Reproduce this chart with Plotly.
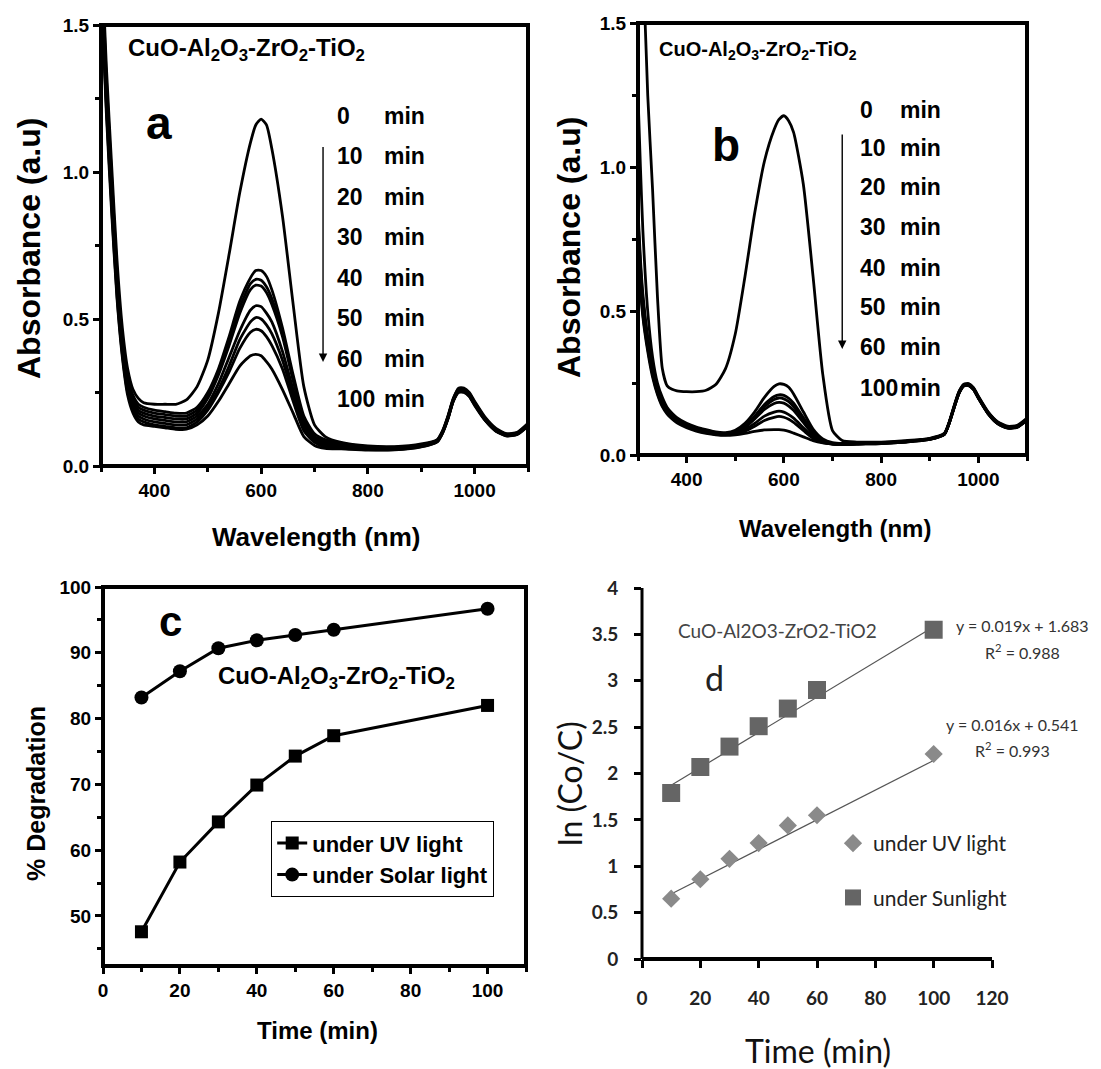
import plotly.graph_objects as go

W_PX, H_PX = 1101, 1069

# ---------------- data ----------------
wavelength = [300, 305, 310, 320, 330, 340, 350, 360, 370, 380, 400, 420, 440, 460, 480,
              500, 520, 540, 560, 580, 590, 600, 610, 620, 640, 660, 680, 700, 720, 750,
              800, 850, 900, 930, 940, 950, 960, 970, 980, 990, 1000, 1020, 1040, 1060, 1080, 1100]

# (a) spectra under UV light
a_0min = [1.80, 1.58, 1.36, 1.02, 0.70, 0.47, 0.33, 0.26, 0.23, 0.215, 0.21, 0.21, 0.21, 0.225, 0.27,
          0.36, 0.52, 0.72, 0.93, 1.10, 1.16, 1.18, 1.16, 1.08, 0.85, 0.55, 0.27, 0.14, 0.10, 0.08,
          0.068, 0.066, 0.075, 0.09, 0.12, 0.17, 0.23, 0.265, 0.265, 0.25, 0.22, 0.165, 0.128, 0.11, 0.115, 0.145]
a_10min = [1.76, 1.54, 1.32, 0.98, 0.66, 0.43, 0.30, 0.24, 0.21, 0.20, 0.19, 0.185, 0.18, 0.18, 0.20,
           0.25, 0.33, 0.44, 0.56, 0.64, 0.665, 0.665, 0.645, 0.60, 0.47, 0.31, 0.17, 0.11, 0.09, 0.078,
           0.066, 0.064, 0.072, 0.088, 0.118, 0.168, 0.228, 0.262, 0.262, 0.247, 0.217, 0.162, 0.125, 0.108, 0.113, 0.142]
a_20min = [1.74, 1.52, 1.30, 0.96, 0.64, 0.42, 0.29, 0.23, 0.20, 0.19, 0.18, 0.175, 0.17, 0.17, 0.19,
           0.24, 0.32, 0.42, 0.54, 0.62, 0.635, 0.632, 0.61, 0.57, 0.45, 0.30, 0.16, 0.10, 0.085, 0.075,
           0.064, 0.063, 0.071, 0.087, 0.117, 0.166, 0.226, 0.26, 0.26, 0.245, 0.215, 0.16, 0.124, 0.107, 0.112, 0.141]
a_30min = [1.72, 1.50, 1.28, 0.94, 0.63, 0.41, 0.28, 0.22, 0.19, 0.18, 0.17, 0.165, 0.16, 0.16, 0.18,
           0.23, 0.31, 0.41, 0.52, 0.60, 0.615, 0.612, 0.59, 0.55, 0.44, 0.29, 0.155, 0.095, 0.08, 0.072,
           0.062, 0.061, 0.07, 0.086, 0.116, 0.165, 0.225, 0.258, 0.258, 0.243, 0.213, 0.158, 0.122, 0.106, 0.111, 0.14]
a_40min = [1.70, 1.48, 1.26, 0.92, 0.61, 0.40, 0.27, 0.21, 0.18, 0.17, 0.16, 0.155, 0.15, 0.15, 0.17,
           0.21, 0.28, 0.37, 0.46, 0.53, 0.545, 0.542, 0.52, 0.49, 0.39, 0.26, 0.14, 0.09, 0.075, 0.07,
           0.06, 0.06, 0.069, 0.085, 0.115, 0.163, 0.223, 0.256, 0.256, 0.241, 0.211, 0.157, 0.121, 0.105, 0.11, 0.139]
a_50min = [1.68, 1.46, 1.24, 0.90, 0.60, 0.39, 0.26, 0.20, 0.17, 0.16, 0.15, 0.145, 0.14, 0.14, 0.16,
           0.20, 0.26, 0.34, 0.43, 0.49, 0.505, 0.50, 0.48, 0.45, 0.36, 0.24, 0.13, 0.085, 0.07, 0.066,
           0.058, 0.058, 0.068, 0.084, 0.114, 0.162, 0.222, 0.254, 0.254, 0.24, 0.21, 0.156, 0.12, 0.104, 0.109, 0.138]
a_60min = [1.66, 1.44, 1.22, 0.88, 0.58, 0.38, 0.25, 0.19, 0.16, 0.15, 0.14, 0.135, 0.13, 0.13, 0.15,
           0.19, 0.25, 0.32, 0.40, 0.455, 0.465, 0.46, 0.44, 0.41, 0.33, 0.22, 0.12, 0.08, 0.065, 0.062,
           0.056, 0.056, 0.066, 0.083, 0.113, 0.161, 0.221, 0.252, 0.252, 0.238, 0.208, 0.155, 0.119, 0.103, 0.108, 0.137]
a_100min = [1.64, 1.42, 1.20, 0.86, 0.57, 0.37, 0.24, 0.18, 0.15, 0.14, 0.135, 0.13, 0.125, 0.125, 0.14,
            0.17, 0.22, 0.28, 0.34, 0.375, 0.38, 0.375, 0.355, 0.33, 0.26, 0.18, 0.10, 0.07, 0.06, 0.058,
            0.054, 0.055, 0.065, 0.082, 0.112, 0.16, 0.22, 0.25, 0.25, 0.236, 0.206, 0.154, 0.118, 0.102, 0.107, 0.136]

# (b) spectra under solar light
b_0min = [1.95, 1.85, 1.72, 1.25, 0.92, 0.55, 0.30, 0.24, 0.228, 0.223, 0.22, 0.22, 0.225, 0.245, 0.30,
          0.42, 0.62, 0.84, 1.02, 1.13, 1.165, 1.178, 1.16, 1.12, 0.94, 0.62, 0.28, 0.085, 0.05, 0.045,
          0.045, 0.05, 0.058, 0.075, 0.115, 0.17, 0.22, 0.246, 0.248, 0.234, 0.204, 0.15, 0.115, 0.10, 0.103, 0.128]
b_10min = [1.25, 1.00, 0.78, 0.50, 0.34, 0.25, 0.20, 0.165, 0.145, 0.13, 0.11, 0.097, 0.088, 0.08, 0.078,
           0.086, 0.11, 0.15, 0.20, 0.238, 0.247, 0.245, 0.235, 0.212, 0.15, 0.09, 0.056, 0.043, 0.04, 0.042,
           0.043, 0.048, 0.057, 0.074, 0.113, 0.168, 0.218, 0.244, 0.246, 0.232, 0.202, 0.148, 0.113, 0.098, 0.101, 0.126]
b_20min = [0.85, 0.68, 0.56, 0.41, 0.31, 0.235, 0.19, 0.16, 0.14, 0.125, 0.106, 0.094, 0.085, 0.078, 0.075,
           0.082, 0.10, 0.135, 0.175, 0.203, 0.209, 0.207, 0.197, 0.18, 0.13, 0.08, 0.05, 0.04, 0.038, 0.04,
           0.042, 0.047, 0.056, 0.073, 0.112, 0.167, 0.217, 0.243, 0.245, 0.231, 0.201, 0.147, 0.112, 0.097, 0.10, 0.125]
b_30min = [0.82, 0.66, 0.54, 0.40, 0.30, 0.23, 0.185, 0.156, 0.137, 0.122, 0.104, 0.092, 0.083, 0.076, 0.074,
           0.08, 0.098, 0.13, 0.168, 0.193, 0.198, 0.195, 0.185, 0.168, 0.122, 0.077, 0.049, 0.04, 0.038, 0.04,
           0.042, 0.047, 0.056, 0.073, 0.112, 0.166, 0.216, 0.242, 0.244, 0.23, 0.20, 0.146, 0.111, 0.096, 0.099, 0.124]
b_40min = [0.80, 0.64, 0.52, 0.39, 0.29, 0.225, 0.18, 0.152, 0.134, 0.12, 0.102, 0.09, 0.081, 0.075, 0.073,
           0.078, 0.095, 0.125, 0.158, 0.179, 0.183, 0.18, 0.17, 0.155, 0.113, 0.072, 0.047, 0.039, 0.037, 0.039,
           0.041, 0.046, 0.055, 0.072, 0.111, 0.165, 0.215, 0.241, 0.243, 0.229, 0.199, 0.145, 0.11, 0.095, 0.098, 0.123]
b_50min = [0.78, 0.62, 0.50, 0.38, 0.285, 0.22, 0.176, 0.148, 0.13, 0.117, 0.10, 0.088, 0.08, 0.074, 0.072,
           0.075, 0.088, 0.11, 0.135, 0.149, 0.152, 0.149, 0.14, 0.128, 0.095, 0.063, 0.045, 0.039, 0.037, 0.039,
           0.041, 0.046, 0.055, 0.072, 0.11, 0.164, 0.214, 0.24, 0.242, 0.228, 0.198, 0.144, 0.109, 0.094, 0.097, 0.122]
b_60min = [0.76, 0.60, 0.49, 0.37, 0.28, 0.215, 0.172, 0.145, 0.128, 0.115, 0.098, 0.086, 0.078, 0.072, 0.07,
           0.073, 0.083, 0.10, 0.12, 0.131, 0.134, 0.131, 0.124, 0.113, 0.085, 0.058, 0.043, 0.038, 0.036, 0.038,
           0.04, 0.045, 0.054, 0.071, 0.11, 0.164, 0.214, 0.24, 0.242, 0.228, 0.198, 0.144, 0.109, 0.094, 0.097, 0.122]
b_100min = [0.74, 0.58, 0.48, 0.36, 0.27, 0.21, 0.168, 0.142, 0.125, 0.112, 0.095, 0.083, 0.075, 0.07, 0.068,
            0.07, 0.075, 0.082, 0.087, 0.088, 0.088, 0.086, 0.082, 0.076, 0.063, 0.05, 0.042, 0.038, 0.036, 0.038,
            0.04, 0.045, 0.054, 0.071, 0.11, 0.163, 0.213, 0.239, 0.241, 0.227, 0.197, 0.143, 0.108, 0.093, 0.096, 0.121]

time_labels = ["0", "10", "20", "30", "40", "50", "60", "100"]

# (c) percentage degradation
time_min = [10, 20, 30, 40, 50, 60, 100]
deg_uv = [47.6, 58.2, 64.3, 69.9, 74.3, 77.4, 82.0]
deg_solar = [83.2, 87.2, 90.7, 91.9, 92.7, 93.5, 96.7]

# (d) first-order kinetics, ln(Co/C)
lnc_uv = [0.65, 0.86, 1.08, 1.25, 1.44, 1.55, 2.21]
lnc_sun = [1.79, 2.07, 2.29, 2.51, 2.70, 2.90, 3.55]
fit_uv = (0.016, 0.541, 0.993)
fit_sun = (0.019, 1.683, 0.988)
fit_range = [10, 100]

# tick values and labels
wl_ticks = [400, 600, 800, 1000]
wl_labels = ["400", "600", "800", "1000"]
abs_ticks = [0, 0.5, 1.0, 1.5]
abs_labels = ["0.0", "0.5", "1.0", "1.5"]
c_x_ticks = [0, 20, 40, 60, 80, 100]
c_x_labels = ["0", "20", "40", "60", "80", "100"]
c_y_ticks = [50, 60, 70, 80, 90, 100]
c_y_labels = ["50", "60", "70", "80", "90", "100"]
d_x_ticks = [0, 20, 40, 60, 80, 100, 120]
d_x_labels = ["0", "20", "40", "60", "80", "100", "120"]
d_y_ticks = [0, 0.5, 1, 1.5, 2, 2.5, 3, 3.5, 4]
d_y_labels = ["0", "0.5", "1", "1.5", "2", "2.5", "3", "3.5", "4"]

# ---------------- styling helpers ----------------
ARIAL = "Liberation Sans, Arial, sans-serif"
CAL = "Lato, Carlito, Calibri, sans-serif"
COMPOUND = "CuO-Al<sub>2</sub>O<sub>3</sub>-ZrO<sub>2</sub>-TiO<sub>2</sub>"


def bold(s):
    return "<b>" + s + "</b>"


def px_x(px):
    return px / W_PX


def px_y(py):
    return 1 - py / H_PX


def dom(x0, x1, y0, y1):
    return [px_x(x0), px_x(x1)], [px_y(y1), px_y(y0)]


fig = go.Figure()

# spectra panels
for curves, xa, ya in (
    ([a_0min, a_10min, a_20min, a_30min, a_40min, a_50min, a_60min, a_100min], "x", "y"),
    ([b_0min, b_10min, b_20min, b_30min, b_40min, b_50min, b_60min, b_100min], "x2", "y2"),
):
    for ys in curves:
        fig.add_trace(go.Scatter(
            x=wavelength, y=ys, mode="lines", xaxis=xa, yaxis=ya,
            line=dict(color="black", width=2.8, shape="spline", smoothing=0.6),
            showlegend=False, hoverinfo="skip"))

# degradation panel
fig.add_trace(go.Scatter(
    x=time_min, y=deg_uv, mode="lines+markers", name=bold("under UV light"),
    xaxis="x3", yaxis="y3", legend="legend",
    line=dict(color="black", width=3),
    marker=dict(symbol="square", size=13, color="black")))
fig.add_trace(go.Scatter(
    x=time_min, y=deg_solar, mode="lines+markers", name=bold("under Solar light"),
    xaxis="x3", yaxis="y3", legend="legend",
    line=dict(color="black", width=3),
    marker=dict(symbol="circle", size=14, color="black")))

# kinetics panel
for slope, icpt, _ in (fit_sun, fit_uv):
    fig.add_trace(go.Scatter(
        x=fit_range, y=[slope * t + icpt for t in fit_range], mode="lines",
        xaxis="x4", yaxis="y4", line=dict(color="#555555", width=1.2),
        showlegend=False, hoverinfo="skip"))
fig.add_trace(go.Scatter(
    x=time_min, y=lnc_uv, mode="markers", name="under UV light",
    xaxis="x4", yaxis="y4", legend="legend2", legendgroup="uv",
    marker=dict(symbol="diamond", size=14, color="#8a8a8a")))
fig.add_trace(go.Scatter(
    x=time_min, y=lnc_sun, mode="markers", name="under Sunlight",
    xaxis="x4", yaxis="y4", legend="legend2", legendgroup="sun",
    marker=dict(symbol="square", size=18, color="#656565")))


# ---------------- axes ----------------
def frame_axis(domain, anchor, rng, tickvals, ticklabels, font, minor=None,
               ticklen=7, tickwidth=2.5, standoff=None):
    d = dict(domain=domain, anchor=anchor, range=rng,
             tickmode="array", tickvals=tickvals, ticktext=[bold(t) for t in ticklabels],
             ticks="outside", ticklen=ticklen, tickwidth=tickwidth, tickcolor="black",
             showline=False, showgrid=False, zeroline=False, tickfont=font)
    if minor:
        tick0, dtick = minor
        d["minor"] = dict(tickmode="linear", tick0=tick0, dtick=dtick, ticks="outside",
                          ticklen=5, tickwidth=2.5, tickcolor="black", showgrid=False)
    if standoff is not None:
        d["ticklabelstandoff"] = standoff
    return d


spec_font = dict(family=ARIAL, size=19, color="black")
c_font = dict(family=ARIAL, size=19, color="black")
d_font = dict(family=CAL, size=19, color="#222222")

xd, yd = dom(101, 528, 25, 466)
xaxis1 = frame_axis(xd, "y", [300, 1100], wl_ticks, wl_labels, spec_font, (300, 100))
yaxis1 = frame_axis(yd, "x", [0, 1.5], abs_ticks, abs_labels, spec_font, (0, 0.25))
xd, yd = dom(638, 1027, 23, 455)
xaxis2 = frame_axis(xd, "y2", [300, 1100], wl_ticks, wl_labels, spec_font, (300, 100))
yaxis2 = frame_axis(yd, "x2", [0, 1.5], abs_ticks, abs_labels, spec_font, (0, 0.25))
xd, yd = dom(103, 526, 587, 966)
xaxis3 = frame_axis(xd, "y3", [0, 110], c_x_ticks, c_x_labels, c_font, (0, 10))
yaxis3 = frame_axis(yd, "x3", [42.4, 100], c_y_ticks, c_y_labels, c_font, (0, 5))
xd, yd = dom(642, 992, 588, 959)
xaxis4 = frame_axis(xd, "y4", [0, 120], d_x_ticks, d_x_labels, d_font,
                    ticklen=8, tickwidth=3, standoff=14)
yaxis4 = frame_axis(yd, "x4", [0, 4], d_y_ticks, d_y_labels, d_font, standoff=12)

# plot frames (boxes for a-c, left/bottom spines for d)
FRAME_W = 4
shapes = []
for sx, sy in (("x", "y"), ("x2", "y2"), ("x3", "y3")):
    shapes.append(dict(type="rect", xref=f"{sx} domain", yref=f"{sy} domain",
                       x0=0, x1=1, y0=0, y1=1, layer="above",
                       line=dict(color="black", width=FRAME_W)))
shapes.append(dict(type="line", xref="x4 domain", yref="y4 domain", x0=0, x1=1, y0=0, y1=0,
                   layer="above", line=dict(color="black", width=FRAME_W)))
shapes.append(dict(type="line", xref="x4 domain", yref="y4 domain", x0=0, x1=0, y0=0, y1=1,
                   layer="above", line=dict(color="black", width=3)))

# ---------------- annotations ----------------
ann = []


def text(x, y, s, size, family, xref="paper", yref="paper", xanchor="center", yanchor="middle",
         angle=0, color="black", is_bold=True):
    ann.append(dict(x=x, y=y, xref=xref, yref=yref, text=bold(s) if is_bold else s,
                    showarrow=False, xanchor=xanchor, yanchor=yanchor, textangle=angle,
                    font=dict(family=family, size=size, color=color)))


# axis titles
text(px_x(29), px_y(249), "Absorbance (a.u)", 32, ARIAL, angle=-90)
text(px_x(316), px_y(537), "Wavelength (nm)", 26, ARIAL)
text(px_x(569), px_y(248), "Absorbance (a.u)", 32, ARIAL, angle=-90)
text(px_x(835), px_y(528), "Wavelength (nm)", 24, ARIAL)
text(px_x(36), px_y(794), "% Degradation", 25, ARIAL, angle=-90)
text(px_x(317), px_y(1030), "Time (min)", 24, ARIAL)
text(px_x(569), px_y(784), "ln (Co/C)", 32, CAL, angle=-90, color="#111111", is_bold=False)
text(px_x(818), px_y(1050), "Time (min)", 32, CAL, color="#111111", is_bold=False)

# panel (a)
text(346, 1.415, COMPOUND, 24, ARIAL, "x", "y", xanchor="left")
text(409, 1.167, "a", 46, ARIAL, "x", "y")
rows_a = [1.19, 1.053, 0.915, 0.779, 0.639, 0.503, 0.364, 0.228]
for lab, yv in zip(time_labels, rows_a):
    text(738, yv, lab, 23, ARIAL, "x", "y", xanchor="left")
    text(827, yv, "min", 23, ARIAL, "x", "y", xanchor="left")
ann.append(dict(x=716, y=0.354, ax=716, ay=1.09, xref="x", yref="y", axref="x", ayref="y",
                showarrow=True, arrowhead=2, arrowsize=1.2, arrowwidth=1.4, arrowcolor="black", text=""))

# panel (b)
text(340, 1.404, COMPOUND, 20, ARIAL, "x2", "y2", xanchor="left")
text(481, 1.076, "b", 46, ARIAL, "x2", "y2")
rows_b = [1.199, 1.065, 0.931, 0.79, 0.649, 0.515, 0.375, 0.234]
for lab, yv in zip(time_labels, rows_b):
    text(753, yv, lab, 23, ARIAL, "x2", "y2", xanchor="left")
    text(835, yv, "min", 23, ARIAL, "x2", "y2", xanchor="left")
ann.append(dict(x=720, y=0.368, ax=720, ay=1.118, xref="x2", yref="y2", axref="x2", ayref="y2",
                showarrow=True, arrowhead=2, arrowsize=1.2, arrowwidth=1.4, arrowcolor="black", text=""))

# panel (c)
text(17.6, 94.7, "c", 42, ARIAL, "x3", "y3")
text(29.5, 86.3, COMPOUND, 24, ARIAL, "x3", "y3", xanchor="left")

# panel (d)
text(11.6, 3.547, "CuO-Al2O3-ZrO2-TiO2", 19, CAL, "x4", "y4", xanchor="left", color="#444444", is_bold=False)
text(24.9, 3.03, "d", 34, CAL, "x4", "y4", color="#222222", is_bold=False)
for (slope, icpt, r2), pos in ((fit_sun, (1022, 625, 651)), (fit_uv, (1012, 724, 749))):
    xc, yeq, yr = pos
    text(px_x(xc), px_y(yeq), f"y = {slope:.3f}x + {icpt:.3f}", 16, CAL, color="#333333", is_bold=False)
    text(px_x(xc), px_y(yr), f"R<sup>2</sup> = {r2:.3f}", 16, CAL, color="#333333", is_bold=False)

fig.update_layout(
    template="none",
    width=W_PX, height=H_PX, margin=dict(l=0, r=0, t=0, b=0, autoexpand=False),
    paper_bgcolor="white", plot_bgcolor="white",
    xaxis=xaxis1, yaxis=yaxis1, xaxis2=xaxis2, yaxis2=yaxis2,
    xaxis3=xaxis3, yaxis3=yaxis3, xaxis4=xaxis4, yaxis4=yaxis4,
    annotations=ann, shapes=shapes,
    legend=dict(x=px_x(271), y=px_y(821), xanchor="left", yanchor="top",
                bordercolor="black", borderwidth=1.2, bgcolor="white",
                font=dict(family=ARIAL, size=22, color="black")),
    legend2=dict(x=px_x(833), y=px_y(823), xanchor="left", yanchor="top",
                 bgcolor="rgba(0,0,0,0)", tracegroupgap=24,
                 font=dict(family=CAL, size=21, color="#222222")),
)

fig.write_html("out.html")
